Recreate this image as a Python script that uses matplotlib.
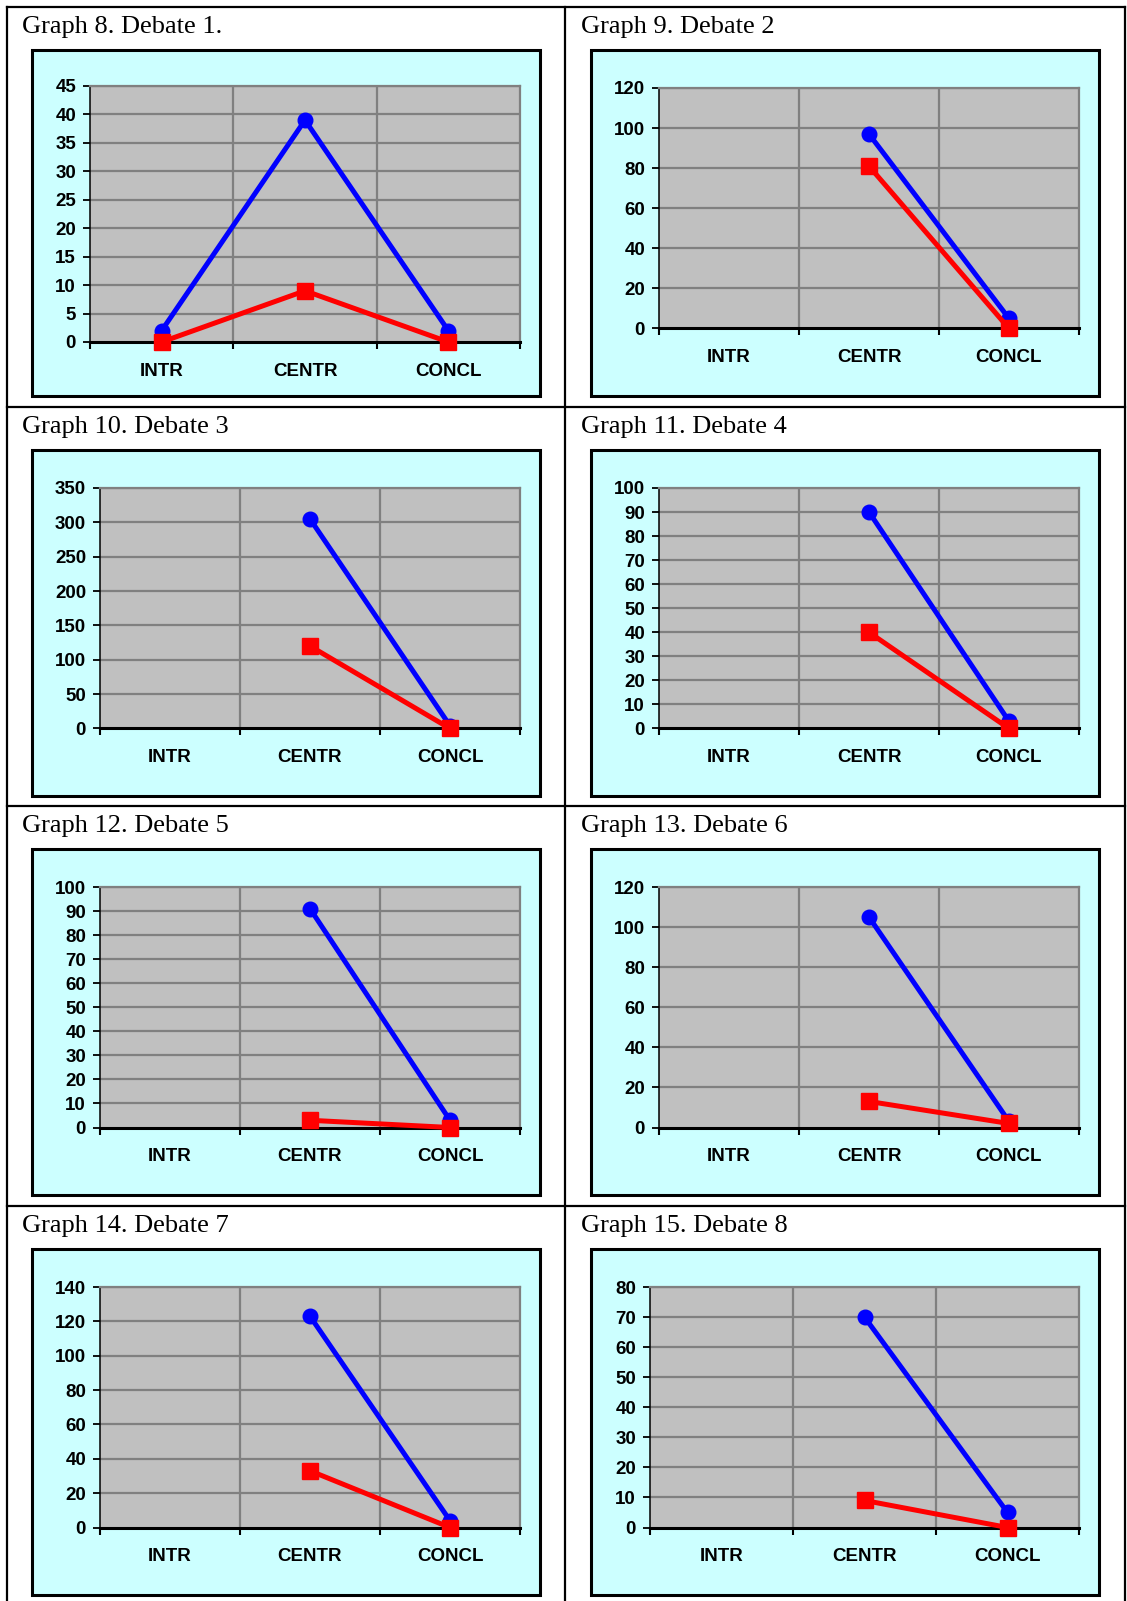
import matplotlib
matplotlib.use('Agg')
import matplotlib.pyplot as plt
import numpy as np
from matplotlib.patches import Rectangle
from matplotlib.lines import Line2D

# ---------------- data ----------------
categories = ['INTR', 'CENTR', 'CONCL']
titles = ['Graph 8. Debate 1.', 'Graph 9. Debate 2',
          'Graph 10. Debate 3', 'Graph 11. Debate 4',
          'Graph 12. Debate 5', 'Graph 13. Debate 6',
          'Graph 14. Debate 7', 'Graph 15. Debate 8']

blue_d1 = [2, 39, 2]
red_d1 = [0, 9, 0]
blue_d2 = [np.nan, 97, 5]
red_d2 = [np.nan, 81, 0]
blue_d3 = [np.nan, 305, 4]
red_d3 = [np.nan, 120, 0]
blue_d4 = [np.nan, 90, 3]
red_d4 = [np.nan, 40, 0]
blue_d5 = [np.nan, 91, 3]
red_d5 = [np.nan, 3, 0]
blue_d6 = [np.nan, 105, 3]
red_d6 = [np.nan, 13, 2]
blue_d7 = [np.nan, 123, 4]
red_d7 = [np.nan, 33, 0]
blue_d8 = [np.nan, 70, 5]
red_d8 = [np.nan, 9, 0]

blue_series = [blue_d1, blue_d2, blue_d3, blue_d4, blue_d5, blue_d6, blue_d7, blue_d8]
red_series = [red_d1, red_d2, red_d3, red_d4, red_d5, red_d6, red_d7, red_d8]
y_max = [45, 120, 350, 100, 100, 120, 140, 80]
y_step = [5, 20, 50, 10, 10, 20, 20, 10]

# ---------------- layout (pixels) ----------------
W, H = 1127, 1601
fig = plt.figure(figsize=(W / 100, H / 100), dpi=100)
fig.patch.set_facecolor('white')

def fx(x):
    return x / W

def fy(y):
    return 1 - y / H

row_tops = [7, 407, 806, 1206]
col_box = [(32, 540), (591, 1099)]
col_plot = [(100, 520), (659, 1079)]
col_title_x = [22, 581]

# table lines
tbl_lw = 1.6
for (x0, y0, x1, y1) in [(7, 7, 1125, 7), (7, 7, 7, 1601), (1125, 7, 1125, 1601),
                         (565, 7, 565, 1601),
                         (7, 407, 1125, 407), (7, 806, 1125, 806), (7, 1206, 1125, 1206)]:
    fig.add_artist(Line2D([fx(x0), fx(x1)], [fy(y0), fy(y1)], color='black',
                          lw=tbl_lw, transform=fig.transFigure, zorder=1,
                          solid_capstyle='projecting'))

sans = 'Liberation Sans'
serif = 'Liberation Serif'

for i in range(8):
    row, col = divmod(i, 2)
    top = row_tops[row]
    # title
    fig.text(fx(col_title_x[col]), fy(top + 26), titles[i], family=serif,
             fontsize=19, ha='left', va='baseline', color='black')
    # chart box
    bx0, bx1 = col_box[col]
    by0, by1 = top + 43, top + 389
    fig.add_artist(Rectangle((fx(bx0), fy(by1)), fx(bx1 - bx0), (by1 - by0) / H,
                             transform=fig.transFigure, facecolor='#CCFFFF',
                             edgecolor='black', lw=2.2, zorder=1))
    # plot area
    px0, px1 = col_plot[col]
    py0, py1 = top + 81, top + 321.5
    if i == 0:
        px0, py0, py1 = 90, top + 79, top + 335
    if i == 7:
        px0 = 650
    ax = fig.add_axes([fx(px0), fy(py1), fx(px1 - px0), (py1 - py0) / H])
    ax.set_zorder(3)
    ax.set_facecolor('#C0C0C0')
    ax.set_xlim(-0.5, 2.5)
    ax.set_ylim(0, y_max[i])
    ticks = np.arange(0, y_max[i] + y_step[i] / 2, y_step[i])
    ax.set_yticks(ticks)
    ax.set_yticklabels([f'{t:g}' for t in ticks])
    for t in ticks[1:]:
        ax.axhline(t, color='#808080', lw=1.6, zorder=1)
    for xv in [0.5, 1.5]:
        ax.axvline(xv, color='#808080', lw=1.6, zorder=1)
    for s in ['top', 'right']:
        ax.spines[s].set_color('#808080')
        ax.spines[s].set_linewidth(1.6)
    ax.spines['left'].set_color('black')
    ax.spines['left'].set_linewidth(1.1)
    ax.spines['bottom'].set_color('black')
    ax.spines['bottom'].set_linewidth(2.2)
    ax.spines['bottom'].set_zorder(4)
    ax.set_xticks([-0.5, 0.5, 1.5, 2.5])
    ax.set_xticklabels([])
    ax.set_xticks([0, 1, 2], minor=True)
    ax.set_xticklabels(categories, minor=True)
    ax.tick_params(axis='x', which='major', direction='out', length=5, width=1.5,
                   color='black')
    ax.tick_params(axis='x', which='minor', length=0, pad=15)
    ax.tick_params(axis='y', direction='out', length=5, width=1.3, color='black', pad=5)
    for lab in ax.get_xticklabels(minor=True) + ax.get_yticklabels():
        lab.set_family(sans)
        lab.set_fontweight('bold')
        lab.set_fontsize(13.5)
    x = np.arange(len(categories))
    ax.plot(x, blue_series[i], color='#0000FF', lw=3.6, marker='o', markersize=10.5,
            solid_joinstyle='round', solid_capstyle='round', clip_on=False, zorder=5)
    ax.plot(x, red_series[i], color='#FF0000', lw=3.6, marker='s', markersize=11.5,
            solid_joinstyle='round', solid_capstyle='round', clip_on=False, zorder=6)

fig.savefig('out.png', dpi=100, facecolor='white')
